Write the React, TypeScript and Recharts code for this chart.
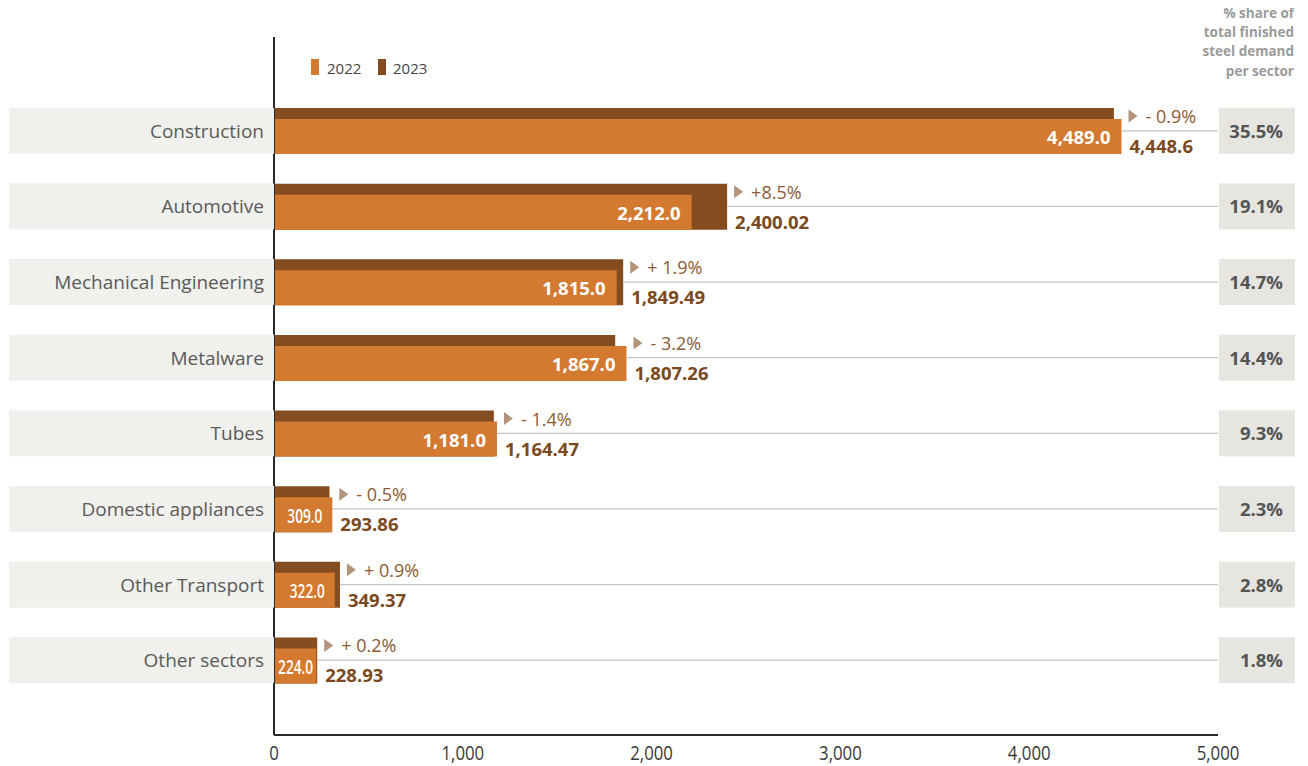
import React from 'react';
import { BarChart, Bar, XAxis, YAxis, LabelList, ReferenceLine } from 'recharts';

const categories = [
  'Construction',
  'Automotive',
  'Mechanical Engineering',
  'Metalware',
  'Tubes',
  'Domestic appliances',
  'Other Transport',
  'Other sectors',
];
const values2022 = [4489.0, 2212.0, 1815.0, 1867.0, 1181.0, 309.0, 322.0, 224.0];
const values2023 = [4448.6, 2400.02, 1849.49, 1807.26, 1164.47, 293.86, 349.37, 228.93];
const changeLabels = ['- 0.9%', '+8.5%', '+ 1.9%', '- 3.2%', '- 1.4%', '- 0.5%', '+ 0.9%', '+ 0.2%'];
const shareLabels = ['35.5%', '19.1%', '14.7%', '14.4%', '9.3%', '2.3%', '2.8%', '1.8%'];
const xTicks = [0, 1000, 2000, 3000, 4000, 5000];
const xMax = 5000;

const data = categories.map((name, i) => ({
  name,
  v2022: values2022[i],
  v2023: values2023[i],
  share: shareLabels[i],
}));

const ORANGE = '#d47a30';
const BROWN = '#854c1f';
const VALUE_BROWN = '#7a4920';
const PCT_BROWN = '#8a5b34';
const TRI = '#b3947a';
const FONT = "'Open Sans', 'Noto Sans', sans-serif";
const DARK_SIZE = 46;
const ORANGE_SIZE = 35;

const fmt22 = (v: number) =>
  v.toLocaleString('en-US', { minimumFractionDigits: 1, maximumFractionDigits: 1 });
const fmt23 = (v: number) =>
  v.toLocaleString('en-US', { minimumFractionDigits: 1, maximumFractionDigits: 2 });

const LeftTick = (props: any) => {
  const { x, y, payload } = props;
  return (
    <g>
      <rect x={x - 265} y={y - DARK_SIZE / 2} width={265} height={DARK_SIZE} fill="#f0f0ec" />
      <text x={x - 10} y={y} dy={7} textAnchor="end" fontFamily={FONT} fontSize={19} fill="#5a5a5a">
        {payload.value}
      </text>
    </g>
  );
};

const RightTick = (props: any) => {
  const { x, y, index } = props;
  return (
    <g>
      <rect x={x + 1} y={y - DARK_SIZE / 2} width={76} height={DARK_SIZE} fill="#e6e5e0" />
      <text
        x={x + 65}
        y={y}
        dy={7}
        textAnchor="end"
        fontFamily={FONT}
        fontWeight={700}
        fontSize={18.5}
        fill="#555"
      >
        {shareLabels[index]}
      </text>
    </g>
  );
};

const XTick = (props: any) => {
  const { x, y, payload } = props;
  return (
    <text
      transform={`translate(${x},${y + 19}) scale(0.84,1)`}
      textAnchor="middle"
      fontFamily={FONT}
      fontSize={20}
      fill="#3a3a3a"
    >
      {Number(payload.value).toLocaleString('en-US')}
    </text>
  );
};

const renderLabels = (props: any) => {
  const { x, y, width, height, index } = props;
  const v22 = values2022[index];
  const v23 = values2023[index];
  const end22 = x + width;
  const end23 = x + width * (v23 / v22);
  const end = Math.max(end22, end23);
  const cy = y + height - DARK_SIZE / 2;
  const narrow = width < 100;
  const pad = narrow ? Math.min(10, (width - 36) / 2) : 11;
  return (
    <g>
      {narrow ? (
        <text
          transform={`translate(${end22 - pad},${y + height - 9.5}) scale(0.72,1)`}
          textAnchor="end"
          fontFamily={FONT}
          fontWeight={600}
          fontSize={19}
          fill="#ffffff"
        >
          {fmt22(v22)}
        </text>
      ) : (
        <text
          x={end22 - pad}
          y={y + height - 10}
          textAnchor="end"
          fontFamily={FONT}
          fontWeight={700}
          fontSize={18.5}
          fill="#ffffff"
        >
          {fmt22(v22)}
        </text>
      )}
      <path
        d={`M${end + 7},${cy - 21.5} L${end + 16},${cy - 15} L${end + 7},${cy - 8.5} Z`}
        fill={TRI}
      />
      <text x={end + 24} y={cy - 8} fontFamily={FONT} fontWeight={400} fontSize={18} fill={PCT_BROWN}>
        {changeLabels[index]}
      </text>
      <text x={end + 8} y={cy + 22} fontFamily={FONT} fontWeight={700} fontSize={18.5} fill={VALUE_BROWN}>
        {fmt23(v23)}
      </text>
    </g>
  );
};

export default function App() {
  return (
    <div style={{ position: 'relative', margin: '-8px 0 0 -8px', width: 1308, height: 766 }}>
      <BarChart
        width={1308}
        height={766}
        data={data}
        layout="vertical"
        margin={{ top: 37, right: 0, bottom: 0, left: 0 }}
        barGap={-ORANGE_SIZE}
      >
        <XAxis
          type="number"
          domain={[0, xMax]}
          ticks={xTicks}
          height={31}
          axisLine={{ stroke: '#2a2a2a', strokeWidth: 2 }}
          tickLine={false}
          tickSize={0}
          tickMargin={6}
          tick={<XTick />}
        />
        <YAxis
          yAxisId="l"
          type="category"
          dataKey="name"
          width={274}
          padding={{ top: 56, bottom: 37 }}
          axisLine={{ stroke: '#2a2a2a', strokeWidth: 2 }}
          tickLine={false}
          tickSize={0}
          tickMargin={0}
          tick={<LeftTick />}
          interval={0}
        />
        <YAxis
          yAxisId="r"
          orientation="right"
          type="category"
          dataKey="name"
          width={90}
          padding={{ top: 56, bottom: 37 }}
          axisLine={false}
          tickLine={false}
          tickSize={0}
          tickMargin={0}
          tick={<RightTick />}
          interval={0}
        />
        {categories.map((c, i) => (
          <ReferenceLine
            key={c}
            yAxisId="l"
            segment={[
              { x: Math.max(values2022[i], values2023[i]), y: c },
              { x: xMax, y: c },
            ]}
            stroke="#c4c4c4"
            strokeWidth={1.3}
          />
        ))}
        <Bar yAxisId="l" dataKey="v2023" fill={BROWN} barSize={DARK_SIZE} isAnimationActive={false} />
        <Bar yAxisId="l" dataKey="v2022" fill={ORANGE} barSize={ORANGE_SIZE} isAnimationActive={false}>
          <LabelList dataKey="v2022" content={renderLabels} />
        </Bar>
      </BarChart>

      {/* legend */}
      <div style={{ position: 'absolute', left: 311, top: 59, width: 8, height: 16, background: ORANGE }} />
      <div
        style={{
          position: 'absolute',
          left: 327,
          top: 60.7,
          fontFamily: FONT,
          fontSize: 15,
          lineHeight: '15px',
          color: '#444',
        }}
      >
        2022
      </div>
      <div style={{ position: 'absolute', left: 378, top: 59, width: 8, height: 16, background: BROWN }} />
      <div
        style={{
          position: 'absolute',
          left: 393,
          top: 60.7,
          fontFamily: FONT,
          fontSize: 15,
          lineHeight: '15px',
          color: '#444',
        }}
      >
        2023
      </div>

      {/* header */}
      {['% share of', 'total finished', 'steel demand', 'per sector'].map((t, i) => (
        <div
          key={t}
          style={{
            position: 'absolute',
            right: 14,
            top: 5.8 + i * 19.3,
            fontFamily: FONT,
            fontWeight: 700,
            fontSize: 13.5,
            lineHeight: '14px',
            color: '#9a9a9a',
            textAlign: 'right',
            whiteSpace: 'nowrap',
          }}
        >
          {t}
        </div>
      ))}
    </div>
  );
}
